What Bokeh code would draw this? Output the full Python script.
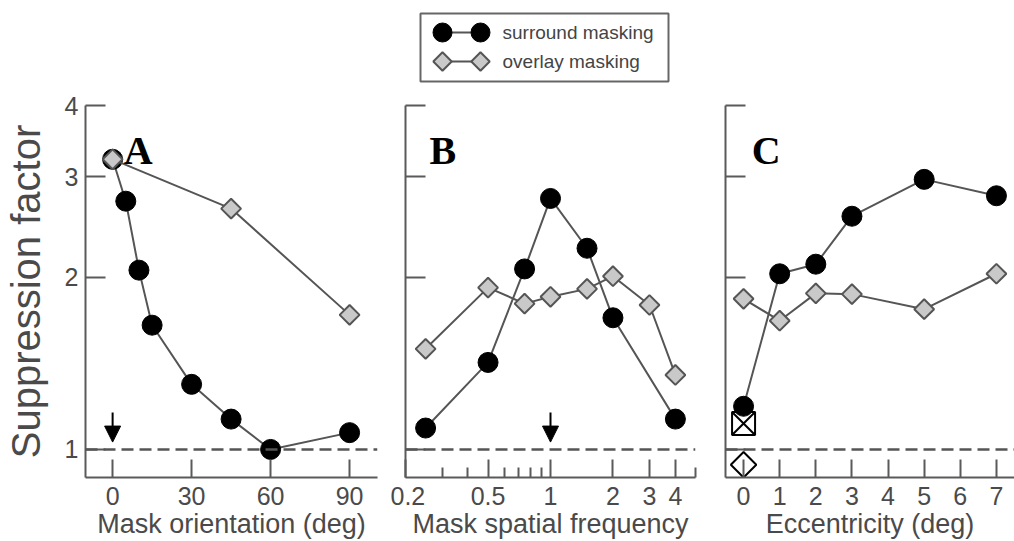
from bokeh.plotting import figure
from bokeh.layouts import column, row
from bokeh.models import (Range1d, FixedTicker, Span, Label, Arrow, NormalHead,
                          CustomJSTickFormatter)
from bokeh.embed import file_html
from bokeh.resources import INLINE
from bokeh.core.properties import value
import numpy as np

# ---- data -------------------------------------------------------------
# A: suppression vs. mask orientation
orient_surround = [0, 5, 10, 15, 30, 45, 60, 90]
supp_orient_surround = [3.22, 2.72, 2.06, 1.65, 1.30, 1.13, 1.00, 1.07]
orient_overlay = [0, 45, 90]
supp_orient_overlay = [3.22, 2.64, 1.72]

# B: suppression vs. mask spatial frequency
sf_surround = [0.25, 0.5, 0.75, 1, 1.5, 2, 4]
supp_sf_surround = [1.09, 1.42, 2.07, 2.75, 2.25, 1.70, 1.13]
sf_overlay = [0.25, 0.5, 0.75, 1, 1.5, 2, 3, 4]
supp_sf_overlay = [1.50, 1.92, 1.80, 1.85, 1.91, 2.01, 1.79, 1.35]

# C: suppression vs. eccentricity
ecc_surround = [0, 1, 2, 3, 5, 7]
supp_ecc_surround = [1.19, 2.03, 2.11, 2.56, 2.97, 2.78]
ecc_overlay = [0, 1, 2, 3, 5, 7]
supp_ecc_overlay = [1.835, 1.68, 1.876, 1.87, 1.76, 2.03]
# additional foveal conditions
fovea_ecc = [0]
fovea_square_x = [1.11]
fovea_diamond = [0.94]

# test stimulus values marked by arrows
test_orientation = 0
test_frequency = 1

y_ticks = [1, 2, 3, 4]
a_ticks = [0, 30, 60, 90]
b_ticks = [0.2, 0.5, 1, 2, 3, 4]
b_minor = [0.3, 0.4, 0.6, 0.7, 0.8, 0.9, 5]
c_ticks = [0, 1, 2, 3, 4, 5, 6, 7]

# ---- styling ----------------------------------------------------------
FONT = "Liberation Sans"
SERIF = "Liberation Serif"
AX = "#5a5a5a"
TXT = "#4a4a4a"
LINE = "#555555"
GREY_FILL = "#c9c9c9"
Y_RANGE = (0.893, 4.0)


def make_panel(width, left, right, x_range, x_type, xticks, xminor, xlabel,
               show_y):
    p = figure(width=width, height=451, x_range=x_range,
               y_range=Range1d(*Y_RANGE), x_axis_type=x_type,
               y_axis_type="log", output_backend="svg", toolbar_location=None,
               min_border_left=left, min_border_right=right,
               min_border_top=15, min_border_bottom=64)
    p.outline_line_color = None
    p.grid.visible = False
    p.background_fill_color = "white"
    p.border_fill_color = "white"

    xa = p.xaxis[0]
    xa.ticker = FixedTicker(ticks=xticks, minor_ticks=xminor)
    xa.formatter = CustomJSTickFormatter(code="return String(tick)")
    xa.axis_label = xlabel
    ya = p.yaxis[0]
    ya.ticker = FixedTicker(ticks=y_ticks, minor_ticks=[])

    for ax in (xa, ya):
        ax.axis_line_color = AX
        ax.axis_line_width = 2
        ax.major_tick_line_color = AX
        ax.major_tick_line_width = 2
        ax.major_tick_out = 0
        ax.minor_tick_line_color = AX
        ax.minor_tick_line_width = 2
        ax.minor_tick_out = 0
        ax.minor_tick_in = 10
        ax.major_label_text_font = FONT
        ax.major_label_text_font_size = "25px"
        ax.major_label_text_color = TXT
        ax.axis_label_text_font = FONT
        ax.axis_label_text_font_style = "normal"
        ax.axis_label_text_color = TXT
    xa.major_tick_in = 18
    ya.major_tick_in = 20
    xa.major_label_standoff = 9
    xa.axis_label_text_font_size = "27px"
    xa.axis_label_standoff = 1

    if show_y:
        ya.formatter = CustomJSTickFormatter(code="return String(tick)")
        ya.axis_label = "Suppression factor"
        ya.axis_label_text_font_size = "40px"
        ya.major_label_standoff = 7
        ya.axis_label_standoff = 14
    else:
        # shared scale: ticks only, no numbers
        ya.formatter = CustomJSTickFormatter(code="return ''")
        ya.major_label_standoff = 0

    p.add_layout(Span(location=1, dimension="width", line_color=LINE,
                      line_width=2.5, line_dash="12 6"))
    return p


def draw_series(p, xs, ys, xo, yo):
    p.line(xs, ys, line_color=LINE, line_width=2)
    p.scatter(xs, ys, marker="circle", size=20, fill_color="black",
              line_color="black")
    p.line(xo, yo, line_color=LINE, line_width=2)
    p.scatter(xo, yo, marker="square", angle=np.pi / 4, size=14,
              fill_color=GREY_FILL, line_color=LINE, line_width=2)


def letter(p, text, x, y):
    p.add_layout(Label(x=x, y=y, text=text, text_font=SERIF,
                       text_font_size="40px", text_font_style="bold",
                       text_color="black", text_baseline="alphabetic"))


def arrow(p, x, y0, y1):
    p.add_layout(Arrow(x_start=x, y_start=y0, x_end=x, y_end=y1,
                       line_color="black", line_width=2,
                       end=NormalHead(size=16, fill_color="black",
                                      line_color="black")))


# Panel A
pa = make_panel(390, 85, 13, Range1d(-10.3, 100.6), "linear", a_ticks, [],
                "Mask orientation (deg)", True)
draw_series(pa, orient_surround, supp_orient_surround,
            orient_overlay, supp_orient_overlay)
letter(pa, "A", 4.2, 3.33)
arrow(pa, test_orientation, 1.16, 1.03)

# Panel B
pb = make_panel(320, 15, 15, Range1d(0.2, 5), "log", b_ticks, b_minor,
                "Mask spatial frequency", False)
draw_series(pb, sf_surround, supp_sf_surround, sf_overlay, supp_sf_overlay)
letter(pb, "B", 0.261, 3.33)
arrow(pb, test_frequency, 1.16, 1.03)

# Panel C
pc = make_panel(304, 15, 0, Range1d(-0.5, 7.5), "linear", c_ticks, [],
                "Eccentricity (deg)", False)
pc.scatter(fovea_ecc, fovea_square_x, marker="square_x", size=23,
           fill_color=None, line_color="black", line_width=2)
pc.scatter(fovea_ecc, fovea_diamond, marker="square", angle=np.pi / 4,
           size=18, fill_color=None, line_color="black", line_width=2)
draw_series(pc, ecc_surround, supp_ecc_surround, ecc_overlay, supp_ecc_overlay)
letter(pc, "C", 0.23, 3.33)

# Legend strip (pixel-like coordinates)
pl = figure(width=1014, height=90, x_range=Range1d(0, 1014),
            y_range=Range1d(90, 0), output_backend="svg",
            toolbar_location=None, min_border=0)
pl.axis.visible = False
pl.grid.visible = False
pl.outline_line_color = None
pl.quad(left=[420], right=[668], top=[13], bottom=[81], fill_color=None,
        line_color="#666666", line_width=2)
pl.line([442, 480], [32, 32], line_color=LINE, line_width=2)
pl.scatter([442, 480], [32, 32], marker="circle", size=19,
           fill_color="black", line_color="black")
pl.line([442, 480], [61, 61], line_color=LINE, line_width=2)
pl.scatter([442, 480], [61, 61], marker="square", angle=np.pi / 4, size=13,
           fill_color=GREY_FILL, line_color=LINE, line_width=2)
pl.text([502, 502], [32, 61], text=["surround masking", "overlay masking"],
        text_font=value(FONT), text_font_size="19px", text_baseline="middle",
        text_color="#444444")

layout = column(pl, row(pa, pb, pc, spacing=0), spacing=0)
open("out.html", "w").write(file_html(layout, INLINE))
